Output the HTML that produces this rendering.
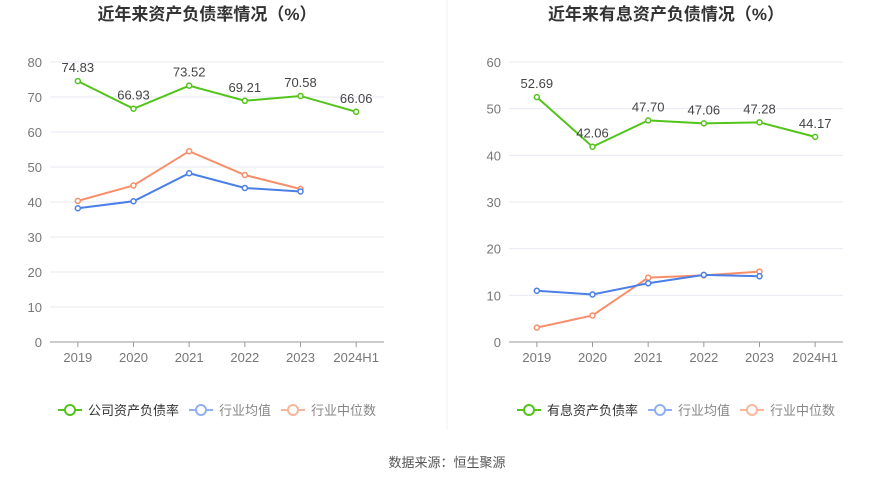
<!DOCTYPE html>
<html><head><meta charset="utf-8"><style>
body{margin:0;background:#fff;width:893px;height:481px;overflow:hidden;font-family:"Liberation Sans","Noto Sans CJK SC",sans-serif}
svg text{font-family:"Liberation Sans","Noto Sans CJK SC",sans-serif}
</style></head><body>
<svg id="c" width="893" height="481">
<line x1="447" y1="0" x2="447" y2="430" stroke="#f0f0f0"/>
<text x="447" y="467" text-anchor="middle" font-size="13" fill="#555">数据来源：恒生聚源</text>
</svg>
<script>
const categories=["2019","2020","2021","2022","2023","2024H1"];
const leftCompany=[74.83,66.93,73.52,69.21,70.58,66.06];
const leftAvg=[38.5,40.5,48.5,44.3,43.3];
const leftMedian=[40.6,45.0,54.8,48.0,44.0];
const leftTicks=[0,10,20,30,40,50,60,70,80];
const rightCompany=[52.69,42.06,47.70,47.06,47.28,44.17];
const rightAvg=[11.2,10.4,12.8,14.6,14.3];
const rightMedian=[3.3,5.9,14.0,14.5,15.3];
const rightTicks=[0,10,20,30,40,50,60];
const NS="http://www.w3.org/2000/svg";
const svg=document.getElementById('c');
function mk(t,a,p){const e=document.createElementNS(NS,t);for(const k in a)e.setAttribute(k,a[k]);(p||svg).appendChild(e);return e;}
function chart(o){
 const g=mk('g',{});
 
 
 const x0=o.x0,x1=o.x1,yTop=62,yBot=342,max=o.ticks[o.ticks.length-1];
 const step=(x1-x0)/categories.length;
 const X=i=>x0+step*(i+0.5);
 const Y=v=>yBot-(v/max)*(yBot-yTop);
 const t=mk('text',{x:(x0+x1)/2-10,y:20,'text-anchor':'middle','font-size':17,'font-weight':'bold',fill:'#333'},g);
 t.textContent=o.title;
 
 
 o.ticks.forEach(v=>{
  const l=mk('line',{x1:x0,x2:x1,y1:Y(v),y2:Y(v),stroke:v===0?'#999':'#e6e9f0'},g);
  
  
  const tx=mk('text',{x:x0-8,y:Y(v)+5,'text-anchor':'end','font-size':13,fill:'#777'},g);
  tx.textContent=v;
  
  
 });
 categories.forEach((c,i)=>{
  const tk=mk('line',{x1:X(i),x2:X(i),y1:yBot,y2:yBot+5,stroke:'#999'},g);
  
  
  const tx=mk('text',{x:X(i),y:yBot+20,'text-anchor':'middle','font-size':13,fill:'#777'},g);
  tx.textContent=c;
  
  
 });
 const series=[[o.median,'#f88e6a','industry-median-line'],[o.avg,'#4a7fe8','industry-average-line'],[o.company,'#52c41a','company-line']];
 series.forEach(([d,col,nm])=>{
  const p=mk('polyline',{points:d.map((v,i)=>X(i)+','+(Y(v)+1)).join(' '),fill:'none',stroke:col,'stroke-width':2},g);
  
  
  d.forEach((v,i)=>{
   const c=mk('circle',{cx:X(i),cy:Y(v)+1,r:2.5,fill:'#fff',stroke:col,'stroke-width':1.5},g);
   
   
  });
 });
 o.company.forEach((v,i)=>{
  const tx=mk('text',{x:X(i),y:Y(v)-8,'text-anchor':'middle','font-size':13,fill:'#444'},g);
  tx.textContent=v.toFixed(2);
  
  
 });
 const lg=[[o.legend,'#52c41a'],['行业均值','#8fb0f2'],['行业中位数','#f9b49c']];
 let lx=o.lx;
 lg.forEach(([txt,col],k)=>{
  const e=mk('g',{},g);
  
  
  mk('line',{x1:lx,x2:lx+24,y1:410,y2:410,stroke:col,'stroke-width':2},e);
  mk('circle',{cx:lx+12,cy:410,r:5,fill:'#fff',stroke:col,'stroke-width':2},e);
  const tx=mk('text',{x:lx+30,y:415,'font-size':13,fill:k===0?'#333':'#888'},e);
  tx.textContent=txt;
  lx+=30+txt.length*13+10;
 });
}
chart({name:'left-chart',title:'近年来资产负债率情况（%）',x0:50,x1:384,ticks:leftTicks,company:leftCompany,avg:leftAvg,median:leftMedian,legend:'公司资产负债率',lx:58});
chart({name:'right-chart',title:'近年来有息资产负债情况（%）',x0:509,x1:843,ticks:rightTicks,company:rightCompany,avg:rightAvg,median:rightMedian,legend:'有息资产负债率',lx:517});
</script>
</body></html>
